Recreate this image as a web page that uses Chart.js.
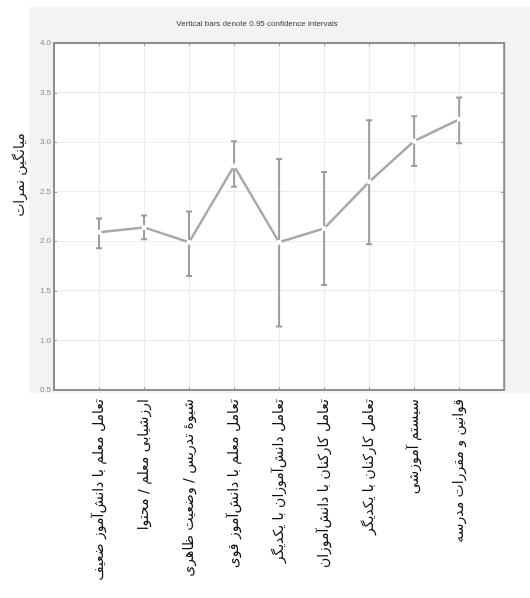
<!DOCTYPE html>
<html>
<head>
<meta charset="utf-8">
<script src="https://cdn.jsdelivr.net/npm/chart.js@4"></script>
<style>
html,body{margin:0;padding:0;background:#fff;}
#wrap{width:530px;height:598px;position:relative;}
</style>
</head>
<body>
<div id="wrap"><canvas id="c" width="530" height="598"></canvas></div>
<script>
const categories = [
  'تعامل معلم با دانش‌آموز ضعیف',
  'ارزشیابی معلم / محتوا',
  'شیوهٔ تدریس / وضعیت ظاهری',
  'تعامل معلم با دانش‌آموز قوی',
  'تعامل دانش‌آموزان با یکدیگر',
  'تعامل کارکنان با دانش‌آموزان',
  'تعامل کارکنان با یکدیگر',
  'سیستم آموزشی',
  'قوانین و مقررات مدرسه'
];
const means = [2.09, 2.14, 1.99, 2.76, 1.99, 2.13, 2.60, 3.01, 3.23];
const upper = [2.23, 2.26, 2.30, 3.01, 2.83, 2.70, 3.22, 3.26, 3.45];
const lower = [1.93, 2.02, 1.65, 2.55, 1.14, 1.56, 1.97, 2.76, 2.99];
const yTickValues = [0.5, 1.0, 1.5, 2.0, 2.5, 3.0, 3.5, 4.0];
const chartTitle = 'Vertical bars denote 0.95 confidence intervals';
const yTitle = 'میانگین نمرات';

const points = means.map((m, i) => ({x: i + 1, y: m}));

const decor = {
  id: 'decor',
  beforeDraw(chart) {
    const {ctx, chartArea: a} = chart;
    ctx.save();
    ctx.fillStyle = '#f2f3f3';
    ctx.fillRect(29, 7, 501, 386);
    ctx.fillStyle = '#ffffff';
    ctx.fillRect(a.left, a.top, a.right - a.left, a.bottom - a.top);
    ctx.restore();
  },
  beforeDatasetsDraw(chart) {
    const {ctx, scales: {x, y}} = chart;
    ctx.save();
    ctx.strokeStyle = '#9c9c9c';
    ctx.lineWidth = 2;
    for (let i = 0; i < means.length; i++) {
      const px = x.getPixelForValue(i + 1);
      const pu = y.getPixelForValue(upper[i]);
      const pl = y.getPixelForValue(lower[i]);
      ctx.beginPath();
      ctx.moveTo(px, pu); ctx.lineTo(px, pl);
      ctx.moveTo(px - 3, pu); ctx.lineTo(px + 3, pu);
      ctx.moveTo(px - 3, pl); ctx.lineTo(px + 3, pl);
      ctx.stroke();
    }
    ctx.restore();
  },
  afterDraw(chart) {
    const {ctx, chartArea: a, scales: {x, y}} = chart;
    ctx.save();
    ctx.strokeStyle = '#9a9a9a';
    ctx.lineWidth = 1;
    ctx.beginPath();
    for (let v = 1; v <= 9; v++) {
      const px = Math.round(x.getPixelForValue(v)) + 0.5;
      ctx.moveTo(px, a.top); ctx.lineTo(px, a.top + 3);
      ctx.moveTo(px, a.bottom); ctx.lineTo(px, a.bottom - 3);
    }
    yTickValues.forEach(v => {
      const py = Math.round(y.getPixelForValue(v)) + 0.5;
      ctx.moveTo(a.left, py); ctx.lineTo(a.left + 3, py);
      ctx.moveTo(a.right, py); ctx.lineTo(a.right - 3, py);
    });
    ctx.stroke();
    ctx.strokeStyle = '#8e8e8e';
    ctx.lineWidth = 2;
    ctx.strokeRect(a.left, a.top, a.right - a.left, a.bottom - a.top);
    ctx.fillStyle = '#3c3c3c';
    ctx.font = '8px "Liberation Sans", Arial, sans-serif';
    ctx.textAlign = 'center';
    ctx.textBaseline = 'middle';
    ctx.fillText(chartTitle, 257, 24);
    ctx.translate(20, 175);
    ctx.rotate(-Math.PI / 2);
    ctx.fillStyle = '#222';
    ctx.font = '14px "DejaVu Sans", sans-serif';
    ctx.fillText(yTitle, 0, 0);
    ctx.restore();
  }
};

new Chart(document.getElementById('c'), {
  type: 'line',
  data: {
    datasets: [{
      data: points,
      borderColor: '#a8a8a8',
      borderWidth: 2.5,
      pointRadius: 2.5,
      pointBackgroundColor: '#ffffff',
      pointBorderWidth: 0,
      pointBorderColor: '#ffffff',
      tension: 0
    }]
  },
  options: {
    responsive: false,
    animation: false,
    devicePixelRatio: 1,
    layout: {padding: {top: 43, right: 10, left: 0, bottom: 0}},
    plugins: {legend: {display: false}, tooltip: {enabled: false}, title: {display: false}},
    scales: {
      x: {
        type: 'linear',
        min: 0, max: 10,
        afterFit(s) { s.height = 208; },
        afterBuildTicks(s) { s.ticks = [0,1,2,3,4,5,6,7,8,9,10].map(v => ({value: v})); },
        ticks: {
          autoSkip: false,
          minRotation: 90, maxRotation: 90,
          padding: 9,
          color: '#111',
          font: {family: '"DejaVu Sans", sans-serif', size: 14},
          callback: (v) => categories[v - 1] || ''
        },
        grid: {color: '#ececec', lineWidth: 1, drawTicks: false},
        border: {display: false}
      },
      y: {
        type: 'linear',
        min: 0.5, max: 4.0,
        afterFit(s) { s.width = 54; },
        afterBuildTicks(s) { s.ticks = yTickValues.map(v => ({value: v})); },
        ticks: {
          padding: 3,
          color: '#8a8a8a',
          font: {family: '"Liberation Sans", Arial, sans-serif', size: 8},
          callback: (v) => Number(v).toFixed(1)
        },
        grid: {color: '#ececec', lineWidth: 1, drawTicks: false},
        border: {display: false}
      }
    }
  },
  plugins: [decor]
});
</script>
</body>
</html>
